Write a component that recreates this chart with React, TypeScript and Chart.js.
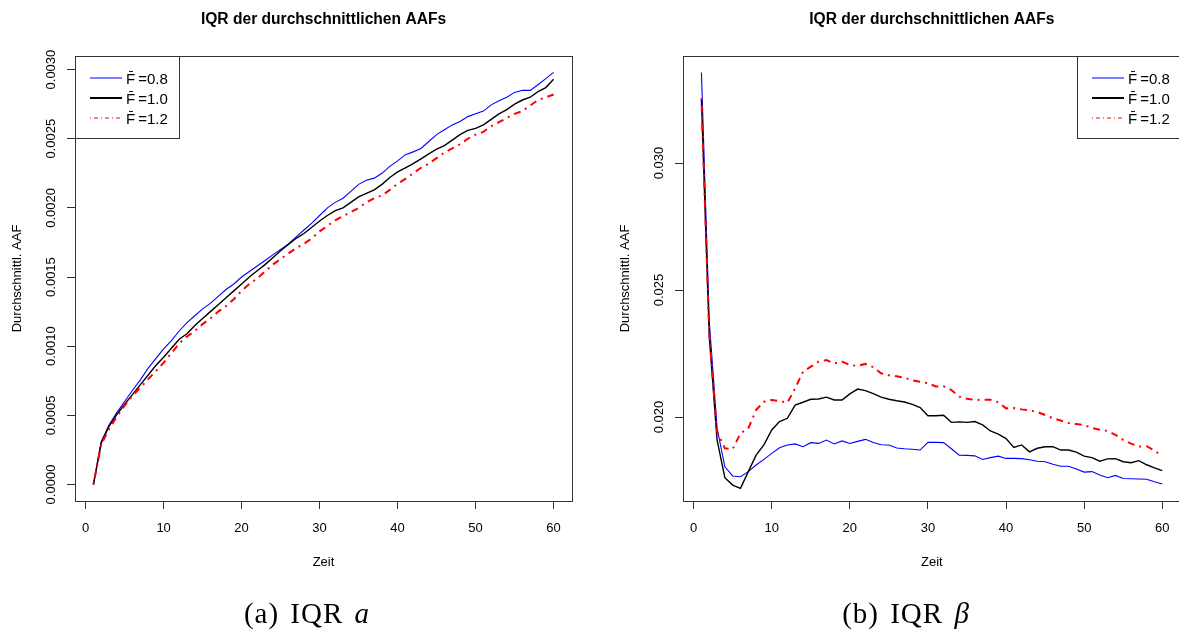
import React, { useEffect, useRef } from "react";
import { Chart, registerables } from "chart.js";

Chart.register(...registerables);

// ---------- data ----------
const zeit = [
  1, 2, 3, 4, 5, 6, 7, 8, 9, 10, 11, 12, 13, 14, 15, 16, 17, 18, 19, 20,
  21, 22, 23, 24, 25, 26, 27, 28, 29, 30, 31, 32, 33, 34, 35, 36, 37, 38, 39, 40,
  41, 42, 43, 44, 45, 46, 47, 48, 49, 50, 51, 52, 53, 54, 55, 56, 57, 58, 59, 60,
];

// (a) IQR a
const iqrA_F08 = [
  0, 0.00031, 0.00043, 0.00052, 0.0006, 0.00068, 0.000755, 0.00084, 0.00091, 0.00098,
  0.00104, 0.00111, 0.00117, 0.00122, 0.00127, 0.00131, 0.00136, 0.00141, 0.00145, 0.0015,
  0.00154, 0.00158, 0.00162, 0.00166, 0.0017, 0.00174, 0.00179, 0.00184, 0.00189, 0.001945,
  0.002, 0.00204, 0.00207, 0.00212, 0.00217, 0.0022, 0.002215, 0.00225, 0.0023, 0.00234,
  0.002385, 0.002405, 0.00243, 0.00248, 0.00253, 0.002565, 0.0026, 0.002625, 0.00266, 0.00268,
  0.0027, 0.002745, 0.002775, 0.0028, 0.002835, 0.00285, 0.00285, 0.00289, 0.002935, 0.00298,
];
const iqrA_F10 = [
  0, 0.0003, 0.00042, 0.000505, 0.00058, 0.00065, 0.00072, 0.00079, 0.00086, 0.00092,
  0.000985, 0.00105, 0.00109, 0.00115, 0.0012, 0.00125, 0.0013, 0.00135, 0.0014, 0.00145,
  0.0015, 0.001545, 0.00159, 0.00164, 0.00169, 0.001735, 0.00178, 0.001815, 0.00186, 0.001905,
  0.001945, 0.00198, 0.002, 0.00204, 0.00208, 0.002105, 0.00213, 0.00217, 0.00222, 0.00226,
  0.00229, 0.00232, 0.002355, 0.00239, 0.002425, 0.00245, 0.00249, 0.00253, 0.00256, 0.002575,
  0.0026, 0.00264, 0.00268, 0.00271, 0.00275, 0.00278, 0.0028, 0.00284, 0.00287, 0.00293,
];
const iqrA_F12 = [
  0, 0.00029, 0.0004, 0.00049, 0.00057, 0.00064, 0.0007, 0.00076, 0.00082, 0.00088,
  0.00095, 0.00102, 0.00107, 0.00111, 0.00116, 0.0012, 0.00125, 0.00129, 0.00134, 0.0014,
  0.00145, 0.00149, 0.00154, 0.00159, 0.00163, 0.00167, 0.00171, 0.00174, 0.00178, 0.00183,
  0.00187, 0.00191, 0.00194, 0.00197, 0.002, 0.00204, 0.00207, 0.00209, 0.00213, 0.002175,
  0.00221, 0.00225, 0.00229, 0.00232, 0.00236, 0.0024, 0.00243, 0.00246, 0.0025, 0.00253,
  0.00255, 0.00259, 0.00262, 0.00265, 0.00268, 0.0027, 0.00274, 0.00278, 0.0028, 0.00282,
];

// (b) IQR beta
const iqrB_F08 = [
  0.03356, 0.0238, 0.01957, 0.01804, 0.01768, 0.01765, 0.01785, 0.01811, 0.01833, 0.01857,
  0.01879, 0.0189, 0.01894, 0.01883, 0.01899, 0.01896, 0.01909, 0.01894, 0.01906, 0.01896,
  0.01904, 0.01912, 0.019, 0.01891, 0.0189, 0.01878, 0.01875, 0.01873, 0.0187, 0.019,
  0.019, 0.01899, 0.01875, 0.0185, 0.01849, 0.01847, 0.01833, 0.0184, 0.01846, 0.01837,
  0.01837, 0.01836, 0.01832, 0.01826, 0.01824, 0.01814, 0.01806, 0.01806, 0.01795, 0.01783,
  0.01785, 0.01772, 0.01761, 0.0177, 0.01758, 0.01757, 0.01756, 0.01755, 0.01745, 0.01736,
];
const iqrB_F10 = [
  0.0325, 0.0232, 0.0191, 0.01761, 0.01732, 0.01719, 0.01785, 0.0185, 0.0189, 0.01949,
  0.01982, 0.01995, 0.02047, 0.02058, 0.0207, 0.02071, 0.02078, 0.02067, 0.02067, 0.02091,
  0.0211, 0.02104, 0.02092, 0.02078, 0.0207, 0.02064, 0.02059, 0.0205, 0.02037, 0.02005,
  0.02005, 0.02007, 0.01979, 0.01981, 0.01979, 0.01982, 0.01969, 0.01945, 0.01933, 0.01915,
  0.0188, 0.0189, 0.01863, 0.01877, 0.01883, 0.01883, 0.0187, 0.0187, 0.01862, 0.01846,
  0.0184, 0.01826, 0.01835, 0.01836, 0.01824, 0.0182, 0.01828, 0.01812, 0.018, 0.01789,
];
const iqrB_F12 = [
  0.03255, 0.0233, 0.01942, 0.01877, 0.01873, 0.01936, 0.01955, 0.02028, 0.0206, 0.02067,
  0.02063, 0.02056, 0.02113, 0.02178, 0.02198, 0.02218, 0.02224, 0.02211, 0.02218, 0.02205,
  0.02201, 0.02209, 0.02196, 0.02172, 0.02164, 0.0216, 0.02155, 0.02144, 0.02139, 0.02133,
  0.0212, 0.02121, 0.02106, 0.0208, 0.02072, 0.02067, 0.02068, 0.02068, 0.02058, 0.02034,
  0.02035, 0.0203, 0.02026, 0.0202, 0.02008, 0.01995, 0.01986, 0.01976, 0.01972, 0.01968,
  0.01957, 0.0195, 0.01945, 0.0193, 0.0191, 0.01895, 0.01884, 0.01885, 0.01868, 0.01846,
];

const xTickValues = [0, 10, 20, 30, 40, 50, 60];
const yTickValuesA = [0, 0.0005, 0.001, 0.0015, 0.002, 0.0025, 0.003];
const yTickValuesB = [0.02, 0.025, 0.03];
const legendLabels = ["F\u0304\u2009=0.8", "F\u0304\u2009=1.0", "F\u0304\u2009=1.2"];
const chartTitle = "IQR der durchschnittlichen AAFs";
const xAxisTitle = "Zeit";
const yAxisTitle = "Durchschnittl. AAF";

// ---------- styles ----------
const seriesColors = ["#0000ff", "#000000", "#ff0000"];
const seriesWidths = [1.1, 1.4, 2];
const seriesDash: number[][] = [[], [], [2, 5, 7, 5]];
const legendWidths = [1, 2, 1];
const legendDash: number[][] = [[], [], [1, 3, 4, 3]];
const SANS = '"Liberation Sans", Arial, Helvetica, sans-serif';

const framePlugin = {
  id: "rframe",
  afterDraw(chart: any, _args: any, opts: any) {
    const { ctx, chartArea: a, scales } = chart;
    ctx.save();
    // box
    ctx.strokeStyle = "#333";
    ctx.lineWidth = 1;
    ctx.setLineDash([]);
    ctx.strokeRect(Math.round(a.left) + 0.5, Math.round(a.top) + 0.5, Math.round(a.right - a.left), Math.round(a.bottom - a.top));

    ctx.fillStyle = "#000";
    // title
    ctx.font = `bold 15.6px ${SANS}`;
    ctx.textAlign = "center";
    ctx.textBaseline = "alphabetic";
    const cx = (a.left + a.right) / 2;
    const cy = (a.top + a.bottom) / 2;
    ctx.fillText(chartTitle, cx, a.top - 32);

    // x tick labels
    ctx.font = `13px ${SANS}`;
    scales.x.ticks.forEach((t: any) => {
      ctx.fillText(String(t.value), scales.x.getPixelForValue(t.value), a.bottom + 30.6);
    });
    // x title
    ctx.fillText(xAxisTitle, cx, a.bottom + 64.6);

    // y tick labels (rotated)
    scales.y.ticks.forEach((t: any) => {
      const py = scales.y.getPixelForValue(t.value);
      ctx.save();
      ctx.translate(a.left - 20.4, py);
      ctx.rotate(-Math.PI / 2);
      ctx.fillText(t.value.toFixed(opts.decimals), 0, 0);
      ctx.restore();
    });
    // y title
    ctx.save();
    ctx.translate(a.left - 54.4, cy);
    ctx.rotate(-Math.PI / 2);
    ctx.fillText(yAxisTitle, 0, 0);
    ctx.restore();

    // legend
    const lw = 103.7;
    const lh = 82;
    const lx = opts.legendRight ? a.right - lw : a.left;
    const ly = a.top;
    ctx.fillStyle = "#fff";
    ctx.fillRect(lx, ly, lw, lh);
    ctx.strokeStyle = "#333";
    ctx.lineWidth = 1;
    ctx.strokeRect(Math.round(lx) + 0.5, Math.round(ly) + 0.5, Math.round(lw), Math.round(lh));
    ctx.textAlign = "left";
    ctx.font = `15px ${SANS}`;
    legendLabels.forEach((lab, k) => {
      const ry = ly + 22 + k * 20;
      ctx.strokeStyle = seriesColors[k];
      ctx.lineWidth = legendWidths[k];
      ctx.setLineDash(legendDash[k]);
      ctx.beginPath();
      ctx.moveTo(lx + 15, ry);
      ctx.lineTo(lx + 47, ry);
      ctx.stroke();
      ctx.setLineDash([]);
      ctx.fillStyle = "#000";
      ctx.fillText(lab, lx + 51, ry + 5.5);
    });
    ctx.restore();
  },
};

type PanelProps = {
  left: number;
  width: number;
  padding: { left: number; right: number; top: number; bottom: number };
  series: number[][];
  yMin: number;
  yMax: number;
  yTicks: number[];
  decimals: number;
  legendRight: boolean;
};

function Panel(p: PanelProps) {
  const ref = useRef<HTMLCanvasElement | null>(null);
  useEffect(() => {
    if (!ref.current) return;
    const chart = new Chart(ref.current, {
      type: "line",
      data: {
        datasets: p.series.map((vals, k) => ({
          label: legendLabels[k],
          data: vals.map((v, i) => ({ x: zeit[i], y: v })),
          borderColor: seriesColors[k],
          borderWidth: seriesWidths[k],
          borderDash: seriesDash[k],
          pointRadius: 0,
          tension: 0,
          fill: false,
          order: 3 - k,
        })),
      },
      options: {
        responsive: false,
        animation: false,
        devicePixelRatio: 1,
        layout: { padding: p.padding },
        plugins: {
          legend: { display: false },
          title: { display: false },
          tooltip: { enabled: false },
          rframe: { decimals: p.decimals, legendRight: p.legendRight },
        } as any,
        scales: {
          x: {
            type: "linear",
            min: -1.36,
            max: 62.36,
            afterBuildTicks: (s: any) => {
              s.ticks = xTickValues.map((v) => ({ value: v }));
            },
            afterFit: (s: any) => {
              s.height = 0;
            },
            ticks: { display: false },
            grid: { drawOnChartArea: false, drawTicks: true, tickLength: 8, color: "#333", lineWidth: 1 },
            border: { display: false },
          },
          y: {
            type: "linear",
            min: p.yMin,
            max: p.yMax,
            afterBuildTicks: (s: any) => {
              s.ticks = p.yTicks.map((v) => ({ value: v }));
            },
            afterFit: (s: any) => {
              s.width = 0;
            },
            ticks: { display: false },
            grid: { drawOnChartArea: false, drawTicks: true, tickLength: 8, color: "#333", lineWidth: 1 },
            border: { display: false },
          },
        },
      } as any,
      plugins: [framePlugin as any],
    });
    return () => chart.destroy();
  }, []);
  return (
    <canvas
      ref={ref}
      width={p.width}
      height={636}
      style={{ position: "absolute", left: p.left, top: 0, width: p.width, height: 636 }}
    />
  );
}

const captionStyle: React.CSSProperties = {
  position: "absolute",
  top: 597,
  width: 400,
  textAlign: "center",
  fontFamily: '"Liberation Serif", "DejaVu Serif", serif',
  fontSize: 29,
  lineHeight: "32px",
  letterSpacing: 1,
  wordSpacing: 3,
  color: "#000",
  whiteSpace: "nowrap",
};

export default function App() {
  return (
    <div
      style={{
        position: "absolute",
        left: 0,
        top: 0,
        width: 1179,
        height: 636,
        overflow: "hidden",
        background: "#fff",
      }}
    >
      <Panel
        left={0}
        width={600}
        padding={{ left: 75, right: 28, top: 56, bottom: 135 }}
        series={[iqrA_F08, iqrA_F10, iqrA_F12]}
        yMin={-0.0001192}
        yMax={0.0030982}
        yTicks={yTickValuesA}
        decimals={4}
        legendRight={false}
      />
      <Panel
        left={600}
        width={585}
        padding={{ left: 83, right: 4.3, top: 56, bottom: 135 }}
        series={[iqrB_F08, iqrB_F10, iqrB_F12]}
        yMin={0.016693}
        yMax={0.034213}
        yTicks={yTickValuesB}
        decimals={3}
        legendRight={true}
      />
      <div style={{ ...captionStyle, left: 307 - 200 }}>
        (a) IQR <i>a</i>
      </div>
      <div style={{ ...captionStyle, left: 906 - 200 }}>
        (b) IQR <i>β</i>
      </div>
    </div>
  );
}
